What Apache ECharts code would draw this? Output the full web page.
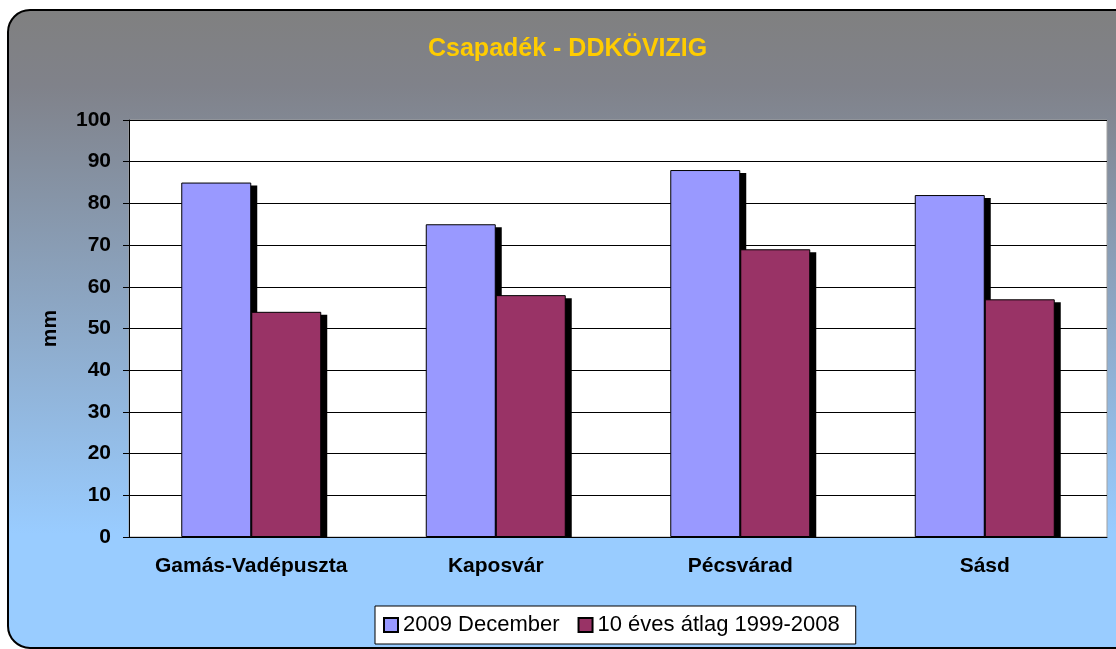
<!DOCTYPE html>
<html>
<head>
<meta charset="utf-8">
<script src="https://cdn.jsdelivr.net/npm/echarts@6/dist/echarts.min.js"></script>
<style>
  html, body { margin: 0; padding: 0; background: #fff; }
  #chart { width: 1116px; height: 649px; }
</style>
</head>
<body>
<div id="chart"></div>
<script>
// data
var stations = ['Gamás-Vadépuszta', 'Kaposvár', 'Pécsvárad', 'Sásd']
var dec2009 = [85, 75, 88, 82]
var avg10y = [54, 58, 69, 57]
var seriesNames = ['2009 December', '10 éves átlag 1999-2008']

var font = '"Liberation Sans", Arial, sans-serif'
var BAR_W = 70

var chart = echarts.init(document.getElementById('chart'))

// flat black drop shadow behind each bar (offset right / down, cut at the axis)
function shadowSeries(values, leftOffset) {
  return {
    type: 'custom',
    silent: true,
    z: 1,
    data: values.map(function(v, i) { return [i, v] }),
    renderItem: function(params, api) {
      var top = api.coord([api.value(0), api.value(1)])
      var base = api.coord([api.value(0), 0])
      var dx = 6, dy = 3
      return {
        type: 'rect',
        shape: {
          x: top[0] + leftOffset + dx,
          y: top[1] + dy,
          width: BAR_W,
          height: base[1] - top[1] - dy
        },
        style: { fill: '#000' }
      }
    }
  }
}

chart.setOption({
  animation: false,
  graphic: [{
    type: 'rect',
    z: -10,
    silent: true,
    shape: { x: 8, y: 10, width: 1130, height: 638, r: 22 },
    style: {
      fill: new echarts.graphic.LinearGradient(0, 0, 0, 1, [
        { offset: 0, color: '#808080' },
        { offset: 0.12, color: '#80828a' },
        { offset: 0.82, color: '#99ccff' },
        { offset: 1, color: '#99ccff' }
      ]),
      stroke: '#000',
      lineWidth: 2
    }
  }],
  title: {
    text: 'Csapadék - DDKÖVIZIG',
    left: 423,
    top: 32,
    textStyle: {
      color: '#ffcc00',
      fontSize: 25,
      fontWeight: 'bold',
      fontFamily: font
    }
  },
  grid: {
    left: 129,
    right: 9,
    top: 120,
    bottom: 112,
    show: true,
    backgroundColor: '#fff',
    borderColor: '#a0a0a0',
    borderWidth: 1
  },
  legend: {
    data: seriesNames,
    left: 375,
    top: 606,
    padding: [8, 16, 8, 8],
    itemGap: 18,
    itemWidth: 14,
    itemHeight: 14,
    backgroundColor: '#fff',
    borderColor: '#000',
    borderWidth: 1,
    icon: 'rect',
    textStyle: {
      color: '#000',
      fontSize: 22,
      fontFamily: font
    }
  },
  xAxis: {
    type: 'category',
    data: stations,
    axisLine: { lineStyle: { color: '#000', width: 1 } },
    axisTick: { length: 6, lineStyle: { color: '#000' } },
    axisLabel: {
      interval: 0,
      hideOverlap: false,
      margin: 19,
      color: '#000',
      fontSize: 21,
      fontWeight: 'bold',
      fontFamily: font
    }
  },
  yAxis: {
    type: 'value',
    min: 0,
    max: 100,
    interval: 10,
    name: 'mm',
    nameLocation: 'middle',
    nameRotate: 90,
    nameGap: 68,
    nameTextStyle: {
      color: '#000',
      fontSize: 21,
      fontWeight: 'bold',
      fontFamily: font
    },
    axisLine: { show: true, lineStyle: { color: '#000', width: 1 } },
    axisTick: { show: true, length: 6, lineStyle: { color: '#000' } },
    splitLine: { lineStyle: { color: '#000', width: 1 } },
    axisLabel: {
      margin: 18,
      color: '#000',
      fontSize: 21,
      fontWeight: 'bold',
      fontFamily: font
    }
  },
  series: [
    shadowSeries(dec2009, -BAR_W),
    shadowSeries(avg10y, 0),
    {
      name: seriesNames[0],
      type: 'bar',
      z: 2,
      data: dec2009,
      barWidth: BAR_W,
      barGap: '0%',
      itemStyle: { color: '#9999ff', borderColor: '#000', borderWidth: 1 }
    },
    {
      name: seriesNames[1],
      type: 'bar',
      z: 2,
      data: avg10y,
      barWidth: BAR_W,
      itemStyle: { color: '#993366', borderColor: '#000', borderWidth: 1 }
    }
  ]
})
</script>
</body>
</html>
